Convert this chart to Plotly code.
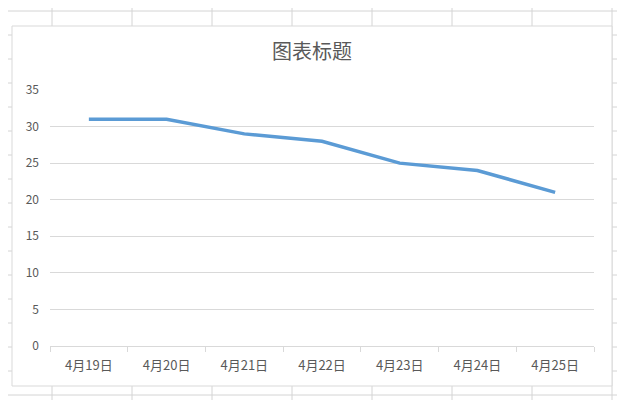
import plotly.graph_objects as go

categories = ["4月19日", "4月20日", "4月21日", "4月22日", "4月23日", "4月24日", "4月25日"]
values = [31, 31, 29, 28, 25, 24, 21]
title_text = "图表标题"

W, H = 625, 400
OFF = 8  # page body margin
# plot area in page pixels
PL, PR, PT, PB = 50, 594, 90, 346
L, T = PL - OFF, PT - OFF
R, B = W - (PR - OFF), H - (PB - OFF)
pw, ph = W - L - R, H - T - B

def px(x):
    return (x - OFF - L) / pw

def py(y):
    return (H - B - (y - OFF)) / ph

shapes = []
sheet_col = "#d4d4d4"
for xv in [52, 132, 212, 292, 372, 452, 532, 612]:
    shapes.append(dict(type="line", xref="paper", yref="paper", x0=px(xv), x1=px(xv), y0=py(0), y1=py(H + OFF),
                       line=dict(color=sheet_col, width=1), layer="below"))
for yv in range(11, 400, 24):
    shapes.append(dict(type="line", xref="paper", yref="paper", x0=px(0), x1=px(W + OFF), y0=py(yv), y1=py(yv),
                       line=dict(color=sheet_col, width=1), layer="below"))
shapes.append(dict(type="rect", xref="paper", yref="paper", x0=px(12), x1=px(612), y0=py(26), y1=py(386),
                   fillcolor="white", line=dict(color="#d9d9d9", width=1), layer="below"))

fig = go.Figure(go.Scatter(x=categories, y=values, mode="lines",
                           line=dict(color="#5B9BD5", width=3.5)))

fig.update_layout(
    width=W, height=H,
    margin=dict(l=L, r=R, t=T, b=B),
    paper_bgcolor="white",
    plot_bgcolor="rgba(0,0,0,0)",
    font=dict(family="Noto Sans CJK SC, sans-serif", size=12, color="#595959"),
    title=dict(text=title_text, x=(312 - OFF) / W, xanchor="center", y=1 - (52 - OFF) / H, yanchor="middle",
               font=dict(size=20, color="#595959")),
    showlegend=False,
    shapes=shapes,
)
fig.update_xaxes(type="category", showgrid=False, showline=True, linecolor="#d9d9d9", linewidth=1,
                 ticks="outside", tickson="boundaries", ticklen=5, tickcolor="#d9d9d9",
                 ticklabelstandoff=7,
                 range=[-0.5, 6.5], tickfont=dict(size=13, color="#595959"))
fig.update_yaxes(range=[0, 35], dtick=5, showgrid=True, gridcolor="#d9d9d9", gridwidth=1,
                 zeroline=False, showline=False, ticks="", ticklabelstandoff=10,
                 tickfont=dict(size=12, color="#595959"))

fig.write_html("out.html")
